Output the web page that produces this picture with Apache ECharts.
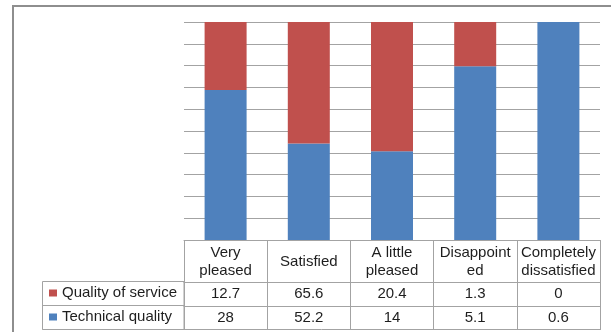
<!DOCTYPE html>
<html>
<head>
<meta charset="utf-8">
<script src="https://cdn.jsdelivr.net/npm/echarts@6/dist/echarts.min.js"></script>
<style>
  html, body { margin: 0; padding: 0; background: #ffffff; }
  #chart { width: 611px; height: 332px; }
</style>
</head>
<body>
<div id="chart"></div>
<script>
// Satisfaction categories, shown as the header row of the data table
const categories = ['Very\npleased', 'Satisfied', 'A little\npleased', 'Disappoint\ned', 'Completely\ndissatisfied'];

// Raw survey counts per category
const qualityOfService = [12.7, 65.6, 20.4, 1.3, 0];
const technicalQuality = [28, 52.2, 14, 5.1, 0.6];

// Series names (also the row labels of the table)
const seriesNames = ['Quality of service', 'Technical quality'];

// 100% stacked: each column shows the share of each series
function share(part, other) {
  return part.map(function (v, i) {
    const total = v + other[i];
    return total === 0 ? 0 : v / total * 100;
  });
}
const techShare = share(technicalQuality, qualityOfService);
const serviceShare = share(qualityOfService, technicalQuality);

const FONT = 'Liberation Sans';
const TEXT = '#1e1e1e';
const LINE = '#a3a3a3';
const RED = '#C0504D';
const BLUE = '#4F81BD';

function tableAxis(offset, tickLen, margin, formatter) {
  return {
    type: 'category',
    gridIndex: 0,
    position: 'bottom',
    offset: offset,
    data: categories,
    boundaryGap: true,
    axisLine: { show: true, lineStyle: { color: LINE, width: 1 } },
    axisTick: { show: true, interval: 0, length: tickLen, lineStyle: { color: LINE, width: 1 } },
    axisLabel: {
      show: true,
      interval: 0,
      margin: margin,
      verticalAlign: 'middle',
      lineHeight: 18,
      fontFamily: FONT,
      fontSize: 15,
      color: TEXT,
      formatter: formatter
    },
    splitLine: { show: false }
  };
}

const chart = echarts.init(document.getElementById('chart'), null, { renderer: 'canvas' });

chart.setOption({
  animation: false,
  backgroundColor: '#ffffff',
  grid: { left: 184, right: 11, top: 22, bottom: 92, containLabel: false },
  legend: {
    data: seriesNames,
    orient: 'vertical',
    left: 49,
    top: 284,
    padding: 0,
    itemGap: 6,
    itemWidth: 8,
    itemHeight: 7,
    icon: 'rect',
    selectedMode: false,
    textStyle: { fontFamily: FONT, fontSize: 15, color: TEXT, lineHeight: 18, padding: [0, 0, 0, 0] }
  },
  xAxis: [
    tableAxis(0, 42, 22, function (v) { return v; }),
    tableAxis(42, 24, 12, function (v, i) { return String(qualityOfService[i]); }),
    tableAxis(66, 24, 12, function (v, i) { return String(technicalQuality[i]); })
  ],
  yAxis: {
    type: 'value',
    min: 0,
    max: 100,
    interval: 10,
    axisLabel: { show: false },
    axisLine: { show: false },
    axisTick: { show: false },
    splitLine: { show: true, lineStyle: { color: LINE, width: 1 } }
  },
  series: [
    {
      name: seriesNames[1],
      type: 'bar',
      stack: 'total',
      xAxisIndex: 0,
      barWidth: 42,
      itemStyle: { color: BLUE },
      data: techShare
    },
    {
      name: seriesNames[0],
      type: 'bar',
      stack: 'total',
      xAxisIndex: 0,
      barWidth: 42,
      itemStyle: { color: RED },
      data: serviceShare
    }
  ],
  graphic: [
    // outer chart frame
    {
      type: 'rect',
      silent: true,
      shape: { x: 13, y: 6, width: 700, height: 400 },
      style: { fill: null, stroke: '#8e8e8e', lineWidth: 2 }
    },
    // row-label column of the data table
    {
      type: 'rect',
      silent: true,
      shape: { x: 42.5, y: 281.5, width: 141.5, height: 48 },
      style: { fill: null, stroke: LINE, lineWidth: 1 }
    },
    {
      type: 'line',
      silent: true,
      shape: { x1: 42.5, y1: 305.5, x2: 184, y2: 305.5 },
      style: { stroke: LINE, lineWidth: 1 }
    },
    // bottom edge of the data table
    {
      type: 'line',
      silent: true,
      shape: { x1: 42.5, y1: 329.5, x2: 600.5, y2: 329.5 },
      style: { stroke: LINE, lineWidth: 1 }
    }
  ]
});
</script>
</body>
</html>
